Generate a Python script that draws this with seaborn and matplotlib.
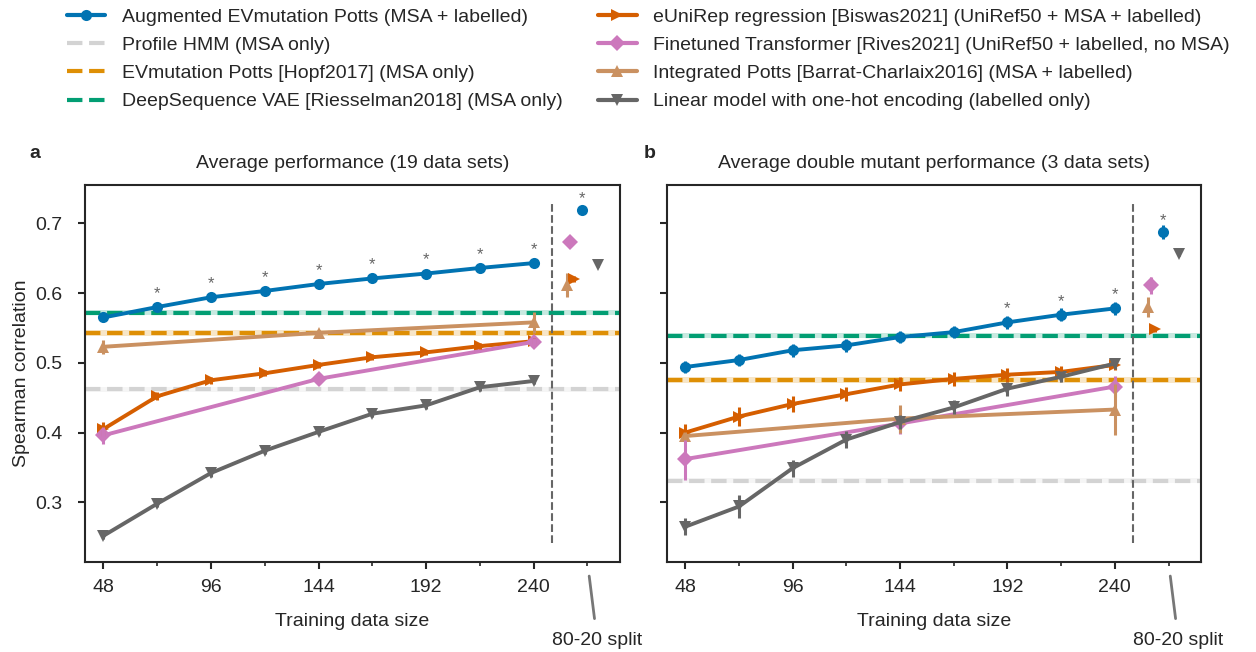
import numpy as np
import pandas as pd
import matplotlib
matplotlib.use("Agg")
import matplotlib.pyplot as plt
from matplotlib.lines import Line2D
import seaborn as sns

# training sizes
sizes = [48, 72, 96, 120, 144, 168, 192, 216, 240]
sizes_sparse = [48, 144, 240]
split_pos = 264  # where the 80-20 split results sit

# ---- panel a: average performance (19 data sets)
a_aug = [0.565, 0.580, 0.594, 0.603, 0.613, 0.621, 0.628, 0.636, 0.643]
a_aug_err = [0.003] * 9
a_eunirep = [0.405, 0.452, 0.475, 0.485, 0.497, 0.508, 0.515, 0.524, 0.531]
a_eunirep_err = [0.010, 0.006, 0.005, 0.004, 0.004, 0.004, 0.004, 0.004, 0.004]
a_trans = [0.396, 0.477, 0.530]
a_trans_err = [0.012, 0.008, 0.006]
a_integ = [0.523, 0.543, 0.558]
a_integ_err = [0.010, 0.004, 0.015]
a_linear = [0.252, 0.298, 0.342, 0.374, 0.401, 0.427, 0.439, 0.465, 0.474]
a_linear_err = [0.005] * 9
a_hmm, a_evm, a_vae = 0.462, 0.543, 0.572
a_split = {"aug": (0.719, 0.003), "eunirep": (0.620, 0.004), "trans": (0.673, 0.004),
           "integ": (0.612, 0.017), "linear": (0.640, 0.003)}
a_stars = [72, 96, 120, 144, 168, 192, 216, 240]

# ---- panel b: double mutants (3 data sets)
b_aug = [0.494, 0.504, 0.518, 0.525, 0.537, 0.544, 0.558, 0.569, 0.578]
b_aug_err = [0.009] * 9
b_eunirep = [0.400, 0.423, 0.441, 0.455, 0.469, 0.477, 0.483, 0.487, 0.497]
b_eunirep_err = [0.012, 0.014, 0.012, 0.010, 0.010, 0.010, 0.010, 0.008, 0.008]
b_trans = [0.362, 0.413, 0.466]
b_trans_err = [0.030, 0.015, 0.015]
b_integ = [0.395, 0.420, 0.433]
b_integ_err = [0.006, 0.020, 0.036]
b_linear = [0.265, 0.294, 0.349, 0.390, 0.415, 0.436, 0.463, 0.480, 0.499]
b_linear_err = [0.012, 0.017, 0.012, 0.012, 0.010, 0.010, 0.010, 0.008, 0.008]
b_hmm, b_evm, b_vae = 0.331, 0.475, 0.539
b_split = {"aug": (0.687, 0.010), "eunirep": (0.548, 0.004), "trans": (0.611, 0.012),
           "integ": (0.580, 0.015), "linear": (0.656, 0.003)}
b_stars = [192, 216, 240]

labels = {
    "aug": "Augmented EVmutation Potts (MSA + labelled)",
    "hmm": "Profile HMM (MSA only)",
    "evm": "EVmutation Potts [Hopf2017] (MSA only)",
    "vae": "DeepSequence VAE [Riesselman2018] (MSA only)",
    "eunirep": "eUniRep regression [Biswas2021] (UniRef50 + MSA + labelled)",
    "trans": "Finetuned Transformer [Rives2021] (UniRef50 + labelled, no MSA)",
    "integ": "Integrated Potts [Barrat-Charlaix2016] (MSA + labelled)",
    "linear": "Linear model with one-hot encoding (labelled only)",
}
colors = {"aug": "#0173b2", "hmm": "#d3d3d3", "evm": "#de8f05", "vae": "#029e73",
          "eunirep": "#d55e00", "trans": "#cc78bc", "integ": "#ca9161", "linear": "#666666"}
markers = {"aug": "o", "eunirep": ">", "trans": "D", "integ": "^", "linear": "v"}
split_dx = {"aug": -2.5, "eunirep": -6, "trans": -8, "integ": -9, "linear": 4.5}

sns.set_style("ticks")
plt.rcParams["font.family"] = ["Liberation Sans", "DejaVu Sans"]
plt.rcParams["axes.linewidth"] = 1.5
for k in ("xtick", "ytick"):
    plt.rcParams[f"{k}.major.width"] = 1.5
    plt.rcParams[f"{k}.minor.width"] = 1.2
    plt.rcParams[f"{k}.major.size"] = 5
    plt.rcParams[f"{k}.minor.size"] = 3
    plt.rcParams[f"{k}.labelsize"] = 14
plt.rcParams["xtick.major.pad"] = 7
plt.rcParams["ytick.major.pad"] = 11


def draw_panel(ax, series, hlines, split, stars):
    # horizontal reference lines (MSA only models)
    for key, val in hlines.items():
        ax.axhspan(val - 0.004, val + 0.004, color=colors[key], alpha=0.22, lw=0)
        ax.axhline(val, color=colors[key], ls="--", lw=3)

    rows = []
    for key, (xs, ys, es) in series.items():
        for x, y in zip(xs, ys):
            rows.append({"size": x, "value": y, "model": key})
    df = pd.DataFrame(rows)
    sns.lineplot(data=df, x="size", y="value", hue="model", style="model",
                 palette=colors, markers=markers, dashes=False, lw=2.8,
                 markersize=8, markeredgewidth=0, legend=False, ax=ax, zorder=3)
    for key, (xs, ys, es) in series.items():
        ax.errorbar(xs, ys, yerr=es, fmt="none", ecolor=colors[key], elinewidth=2.2,
                    capsize=0, zorder=4)

    for key, (val, err) in split.items():
        ax.errorbar(split_pos + split_dx[key], val, yerr=err, fmt=markers[key],
                    color=colors[key], ms=8, mew=0, elinewidth=2.2, capsize=0, zorder=4)

    aug_x, aug_y, aug_e = series["aug"]
    for s in stars:
        i = aug_x.index(s)
        ax.text(s, aug_y[i] + 0.013, "*", ha="center", va="baseline",
                fontsize=12, color="#666666")
    sv, se = split["aug"]
    ax.text(split_pos + split_dx["aug"], sv + 0.01, "*", ha="center",
            va="baseline", fontsize=12, color="#666666")

    ax.axvline(248, ymin=0.05, ymax=0.95, color="#666666", ls="--", lw=1.5)

    ax.set_xlim(39.8, 278.5)
    ax.set_ylim(0.214, 0.755)
    ax.set_xticks([48, 96, 144, 192, 240])
    ax.set_xticks([72, 120, 168, 216, split_pos], minor=True)
    ax.set_yticks([0.3, 0.4, 0.5, 0.6, 0.7])
    ax.set_xlabel("Training data size", fontsize=14, labelpad=12)
    ax.set_ylabel("")
    ax.annotate("80-20 split", xy=(split_pos, 0), xycoords=("data", "axes fraction"),
                xytext=(7, -56), textcoords="offset points", ha="center", va="center",
                fontsize=14, annotation_clip=False,
                arrowprops=dict(arrowstyle="-", color="#777777", lw=2,
                                shrinkA=7, shrinkB=10))


fig = plt.figure(figsize=(12.56, 6.52), dpi=100)
ax_a = fig.add_axes([0.0677, 0.1376, 0.4259, 0.5787])
ax_b = fig.add_axes([0.5310, 0.1376, 0.4252, 0.5787], sharey=ax_a)

draw_panel(ax_a,
           {"aug": (sizes, a_aug, a_aug_err), "eunirep": (sizes, a_eunirep, a_eunirep_err),
            "trans": (sizes_sparse, a_trans, a_trans_err), "integ": (sizes_sparse, a_integ, a_integ_err),
            "linear": (sizes, a_linear, a_linear_err)},
           {"hmm": a_hmm, "evm": a_evm, "vae": a_vae}, a_split, a_stars)
draw_panel(ax_b,
           {"aug": (sizes, b_aug, b_aug_err), "eunirep": (sizes, b_eunirep, b_eunirep_err),
            "trans": (sizes_sparse, b_trans, b_trans_err), "integ": (sizes_sparse, b_integ, b_integ_err),
            "linear": (sizes, b_linear, b_linear_err)},
           {"hmm": b_hmm, "evm": b_evm, "vae": b_vae}, b_split, b_stars)

ax_a.set_ylabel("Spearman correlation", fontsize=14)
ax_b.tick_params(axis="y", labelleft=False)
ax_a.set_title("Average performance (19 data sets)", fontsize=14, pad=12)
ax_b.set_title("Average double mutant performance (3 data sets)", fontsize=14, pad=12)
fig.text(35 / 1256, 1 - 154 / 652, "a", fontsize=14, fontweight="bold", ha="center", va="center")
fig.text(650 / 1256, 1 - 154 / 652, "b", fontsize=14, fontweight="bold", ha="center", va="center")

handles = []
for key in ["aug", "hmm", "evm", "vae", "eunirep", "trans", "integ", "linear"]:
    if key in markers:
        handles.append(Line2D([], [], color=colors[key], lw=3, marker=markers[key],
                              ms=8, mew=0, label=labels[key]))
    else:
        handles.append(Line2D([], [], color=colors[key], lw=3, ls="--", label=labels[key]))
fig.legend(handles=handles, loc="upper left", bbox_to_anchor=(0.0391, 1.014), ncol=2,
           frameon=False, fontsize=14, handlelength=2.0, handletextpad=0.85,
           columnspacing=1.8, labelspacing=0.54)

fig.savefig("out.png", dpi=100)
